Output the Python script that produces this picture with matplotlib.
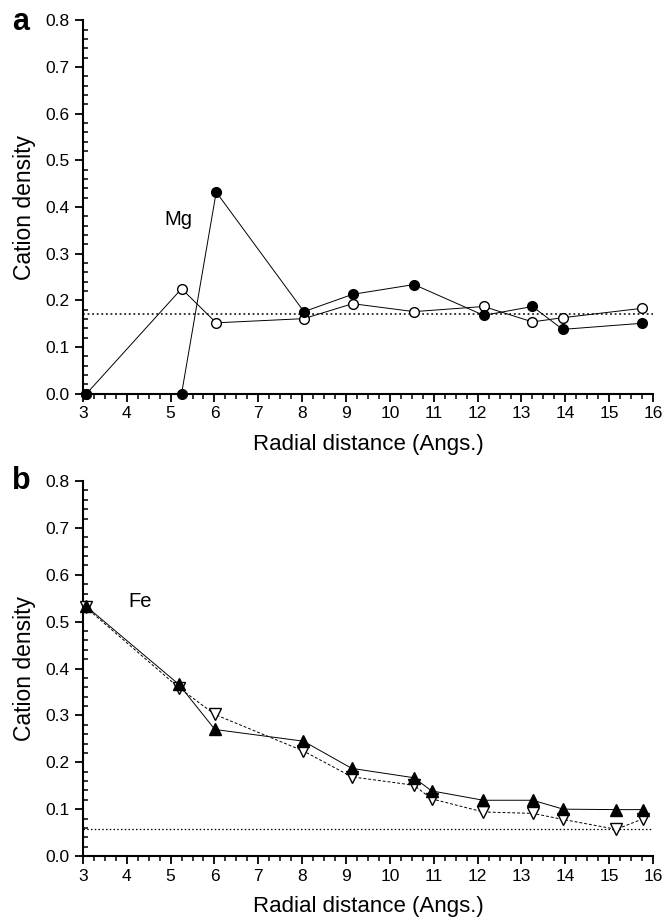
"""
Cation density vs radial distance for Mg (a) and Fe (b)
"""

import matplotlib
matplotlib.use("Agg")
import matplotlib.pyplot as plt
import matplotlib.ticker as ticker

plt.rcParams['font.family'] = ['Liberation Sans', 'DejaVu Sans']

# Mg data (panel a)
mg_x = [3.08, 5.25, 6.04, 8.04, 9.15, 10.55, 12.14, 13.25, 13.94, 15.74]
mg_filled = [0.0, 0.0, 0.432, 0.176, 0.213, 0.234, 0.168, 0.187, 0.138, 0.151]
mg_open = [0.0, 0.225, 0.152, 0.161, 0.193, 0.176, 0.187, 0.154, 0.163, 0.183]
mg_level = 0.171

# Fe data (panel b)
fe_x = [3.06, 5.19, 6.01, 8.03, 9.13, 10.55, 10.95, 12.13, 13.26, 13.95, 15.16, 15.76]
fe_up = [0.534, 0.366, 0.270, 0.245, 0.187, 0.167, 0.139, 0.119, 0.119, 0.100, 0.099, 0.099]
fe_down = [0.531, 0.359, 0.302, 0.224, 0.169, 0.151, 0.122, 0.094, 0.091, 0.078, 0.057, 0.079]
fe_level = 0.0575

fig = plt.figure(figsize=(6.63, 9.18), dpi=100)
ax1 = fig.add_axes([0.125, 0.571, 0.86, 0.407])
ax2 = fig.add_axes([0.125, 0.0675, 0.86, 0.4085])


def style_axes(ax):
    ax.set_xlim(3, 16)
    ax.set_ylim(0, 0.8)
    ax.spines['top'].set_visible(False)
    ax.spines['right'].set_visible(False)
    ax.spines['left'].set_linewidth(1.5)
    ax.spines['bottom'].set_linewidth(1.5)
    ax.xaxis.set_major_locator(ticker.MultipleLocator(1))
    ax.xaxis.set_minor_locator(ticker.MultipleLocator(0.25))
    ax.yaxis.set_major_locator(ticker.MultipleLocator(0.1))
    ax.yaxis.set_minor_locator(ticker.MultipleLocator(0.02))
    ax.yaxis.set_major_formatter(ticker.FormatStrFormatter('%.1f'))
    ax.tick_params(axis='x', which='major', direction='out', length=6, width=1.3, labelsize=12.5, pad=3)
    ax.tick_params(axis='x', which='minor', direction='out', length=3.5, width=1.1)
    ax.tick_params(axis='y', which='major', direction='out', length=6, width=1.3, labelsize=12.5)
    ax.tick_params(axis='y', which='minor', direction='in', length=3.5, width=1.1)
    ax.set_xlabel('Radial distance (Angs.)', fontsize=16, labelpad=9)
    ax.set_ylabel('Cation density', fontsize=16.5, labelpad=7)


# Panel a
ax1.axhline(mg_level, color='black', linestyle=(0, (1.2, 1.8)), linewidth=1.1)
ax1.plot(mg_x, mg_open, color='black', linewidth=0.7, marker='o', markersize=7,
         markerfacecolor='white', markeredgecolor='black', markeredgewidth=1.0, clip_on=False, zorder=3)
ax1.plot(mg_x, mg_filled, color='black', linewidth=0.7, marker='o', markersize=7,
         markerfacecolor='black', markeredgecolor='black', clip_on=False, zorder=4)
ax1.text(4.85, 0.373, 'Mg', fontsize=14.5, va='center')
style_axes(ax1)
fig.text(0.018, 0.976, 'a', fontsize=22, fontweight='bold', va='center')

# Panel b
ax2.axhline(fe_level, color='black', linestyle=(0, (1.2, 1.8)), linewidth=0.9)
ax2.plot(fe_x, fe_down, color='black', linewidth=0.7, linestyle=(0, (3, 2)), marker='v', markersize=8,
         markerfacecolor='white', markeredgecolor='black', markeredgewidth=1.0, clip_on=False, zorder=3)
ax2.plot(fe_x, fe_up, color='black', linewidth=0.7, marker='^', markersize=8,
         markerfacecolor='black', markeredgecolor='black', clip_on=False, zorder=4)
ax2.text(4.03, 0.542, 'Fe', fontsize=14.5, va='center')
style_axes(ax2)
fig.text(0.018, 0.476, 'b', fontsize=22, fontweight='bold', va='center')

fig.savefig('out.png', dpi=100)
